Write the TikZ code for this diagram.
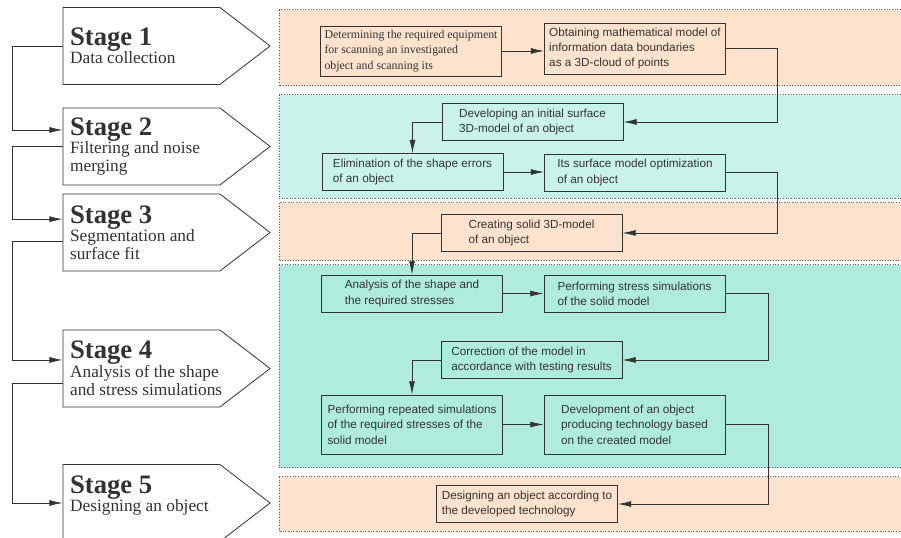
\documentclass[tikz,border=0pt]{standalone}
\usepackage{fontspec}
\setmainfont{Liberation Serif}
\setsansfont{Liberation Sans}
\usetikzlibrary{shapes.symbols,arrows.meta}
\definecolor{peach}{RGB}{253,227,205}
\definecolor{mint}{RGB}{201,243,232}
\definecolor{aqua}{RGB}{176,236,221}
\definecolor{ink}{RGB}{51,51,51}
\begin{document}
\begin{tikzpicture}
[x=0.75pt, y=-0.75pt, line width=0.6pt, draw=ink,
band/.style={draw=gray!70!black, line width=0.75pt, dash pattern=on 0.75pt off 1.25pt},
stage/.style={signal, signal to=east, signal pointer angle=75, draw=ink, fill=white, minimum width=155.25pt, minimum height=57.75pt, inner sep=0pt},
stagetext/.style={anchor=west, align=left, inner sep=0pt, text=ink, font=\fontsize{13}{13.5}\selectfont},
box/.style={rectangle, draw=ink, align=left, inner sep=2pt, text=ink, minimum width=135.75pt, minimum height=27.75pt, font=\sffamily\fontsize{8.8}{11.5}\selectfont},
flow/.style={draw=ink, -{Latex[length=10pt, width=4.5pt]}}]

\clip (0,0) rectangle (901,538);

% coloured bands
\path[band, fill=peach] (279,10) rectangle (906,86);
\path[band, fill=mint] (279,95) rectangle (906,199);
\path[band, fill=peach] (279,203) rectangle (906,261);
\path[band, fill=aqua] (279,265) rectangle (906,468);
\path[band, fill=peach] (279,477) rectangle (906,532);

% stages
\node[stage] (stage1) at (141.5,46) {};
\node[stage] (stage2) at (141.5,146.5) {};
\node[stage] (stage3) at (141.5,232.5) {};
\node[stage] (stage4) at (141.5,368.5) {};
\node[stage] (stage5) at (141.5,503) {};

\node[stagetext] (st1) at ([xshift=5.25pt]stage1.west) {{\fontsize{20}{20}\selectfont\bfseries Stage 1}\\Data collection};
\node[stagetext] (st2) at ([xshift=5.25pt]stage2.west) {{\fontsize{20}{20}\selectfont\bfseries Stage 2}\\Filtering and noise\\merging};
\node[stagetext] (st3) at ([xshift=5.25pt]stage3.west) {{\fontsize{20}{20}\selectfont\bfseries Stage 3}\\Segmentation and\\surface fit};
\node[stagetext] (st4) at ([xshift=5.25pt]stage4.west) {{\fontsize{20}{20}\selectfont\bfseries Stage 4}\\Analysis of the shape\\and stress simulations};
\node[stagetext] (st5) at ([xshift=5.25pt, yshift=5.25pt]stage5.west) {{\fontsize{20}{20}\selectfont\bfseries Stage 5}\\Designing an object};

\draw[flow] (stage1.west) -- ++(-50,0) |- ([yshift=12.4pt]stage2.west);
\draw[flow] (stage2.west) -- ++(-50,0) |- ([yshift=10pt]stage3.west);
\draw[flow] ([yshift=-6.4pt]stage3.west) -- ++(-50,0) |- ([yshift=6.4pt]stage4.west);
\draw[flow] ([yshift=-10.9pt]stage4.west) -- ++(-50,0) |- (stage5.west);

% process boxes
\node[box, font=\rmfamily\fontsize{8.9}{11.5}\selectfont, minimum height=37.5pt] (equip) at (411,51) {Determining the required equipment\\for scanning an investigated\\object and scanning its};
\node[box, minimum height=38.25pt] (cloud) at (635,48.5) {Obtaining mathematical model of\\information data boundaries\\as a 3D-cloud of points};
\node[box] (initsurf) at (532.5,122) {Developing an initial surface\\3D-model of an object};
\node[box] (errors) at (412.5,172) {Elimination of the shape errors\\of an object};
\node[box] (optim) at (635,172.5) {Its surface model optimization\\of an object};
\node[box] (solid) at (531.5,233) {Creating solid 3D-model\\of an object};
\node[box] (analysis) at (412,293.5) {Analysis of the shape and\\the required stresses};
\node[box] (stress) at (634.5,293.5) {Performing stress simulations\\of the solid model};
\node[box] (correct) at (531.5,360) {Correction of the model in\\accordance with testing results};
\node[box, minimum height=44.25pt] (repeated) at (412,424.5) {Performing repeated simulations\\of the required stresses of the\\solid model};
\node[box, minimum height=44.25pt] (techn) at (634.5,424.5) {Development of an object\\producing technology based\\on the created model};
\node[box] (design) at (527,504) {Designing an object according to\\the developed technology};

\draw[flow] (equip.east) -- (equip.east -| cloud.west);
\draw[flow] (cloud.east) -- ++(51,0) |- (initsurf.east);
\draw[flow] (initsurf.west) -| (errors.north);
\draw[flow] (errors.east) -- (errors.east -| optim.west);
\draw[flow] (optim.east) -- ++(51,0) |- (solid.east);
\draw[flow] (solid.west) -| (analysis.north);
\draw[flow] (analysis.east) -- (analysis.east -| stress.west);
\draw[flow] (stress.east) -- ++(43,0) |- (correct.east);
\draw[flow] (correct.west) -| (repeated.north);
\draw[flow] (repeated.east) -- (repeated.east -| techn.west);
\draw[flow] (techn.east) -- ++(43,0) |- (design.east);
\end{tikzpicture}
\end{document}
